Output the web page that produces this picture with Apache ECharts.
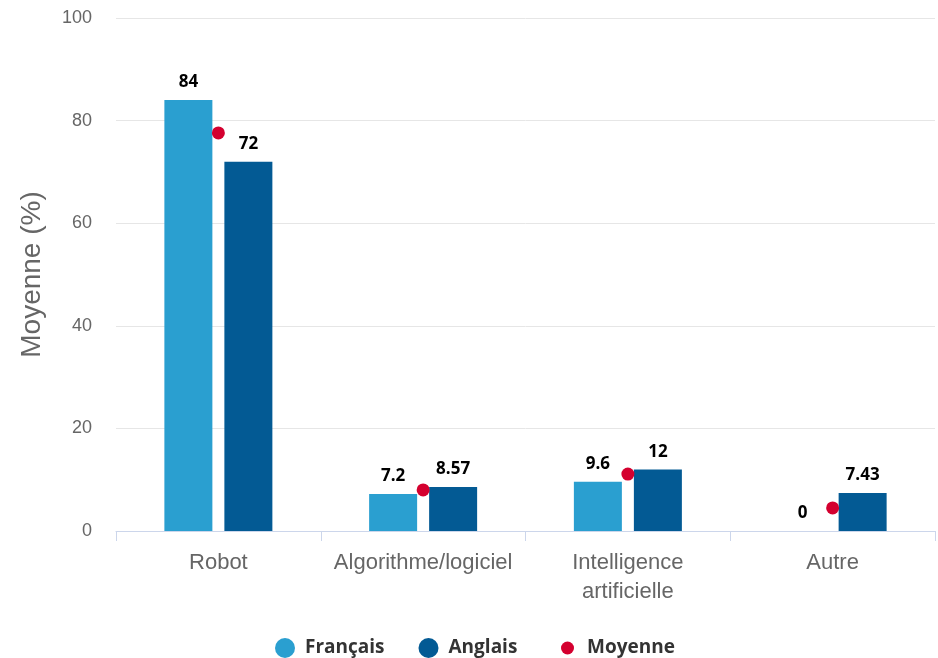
<!DOCTYPE html>
<html><head><meta charset="utf-8">
<script src="https://cdn.jsdelivr.net/npm/echarts@6/dist/echarts.min.js"></script>
<style>html,body{margin:0;padding:0;background:#fff}#c{width:938px;height:658px}</style>
</head><body><div id="c"></div>
<script>
const categories = ['Robot', 'Algorithme/logiciel', 'Intelligence\nartificielle', 'Autre'];
const francais = [84, 7.2, 9.6, 0];
const anglais = [72, 8.57, 12, 7.43];
const moyenne = [77.6, 8.0, 11.1, 4.5];
const yTicks = [0, 20, 40, 60, 80, 100];

const chart = echarts.init(document.getElementById('c'));
const labelStyle = {show: true, position: 'top', distance: 9, color: '#000', fontWeight: 'bold', fontSize: 17, fontFamily: 'Open Sans'};
const legendText = {color: '#333', fontWeight: 'bold', fontSize: 19, lineHeight: 20, fontFamily: 'Open Sans', padding: [0, 0, 0, 5]};
chart.setOption({
  animation: false,
  grid: {left: 116, right: 3, top: 18, bottom: 127},
  legend: [
    {
      top: 638, left: 275, itemGap: 34, itemWidth: 20, itemHeight: 20, padding: 0,
      textStyle: legendText,
      data: [{name: 'Français', icon: 'circle'}, {name: 'Anglais', icon: 'circle'}]
    },
    {
      top: 638, left: 561, itemWidth: 13, itemHeight: 13, padding: 0,
      textStyle: Object.assign({}, legendText, {padding: [0, 0, 0, 8]}),
      data: [{name: 'Moyenne', icon: 'circle'}]
    }
  ],
  xAxis: {
    type: 'category', data: categories,
    axisLine: {lineStyle: {color: '#ccd6eb'}},
    axisTick: {show: true, length: 10, lineStyle: {color: '#ccd6eb'}},
    axisLabel: {interval: 0, color: '#666', fontSize: 22, fontFamily: 'Liberation Sans', margin: 17, lineHeight: 29}
  },
  yAxis: {
    type: 'value', min: yTicks[0], max: yTicks[yTicks.length-1], interval: 20,
    name: 'Moyenne (%)', nameLocation: 'middle', nameGap: 70,
    nameTextStyle: {color: '#666', fontSize: 28, fontFamily: 'Liberation Sans'},
    axisLabel: {color: '#666', fontSize: 18, fontFamily: 'Liberation Sans', margin: 24},
    splitLine: {lineStyle: {color: '#e6e6e6'}},
    axisLine: {show: false}, axisTick: {show: false}
  },
  series: [
    {name: 'Français', type: 'bar', data: francais, barWidth: 48, barGap: '25%',
     itemStyle: {color: '#2a9fd0'}, label: labelStyle},
    {name: 'Anglais', type: 'bar', data: anglais, barWidth: 48,
     itemStyle: {color: '#035a94'}, label: labelStyle},
    {name: 'Moyenne', type: 'scatter', data: moyenne, symbolSize: 13, z: 5,
     itemStyle: {color: '#d4002f', opacity: 1}}
  ]
});
</script></body></html>
